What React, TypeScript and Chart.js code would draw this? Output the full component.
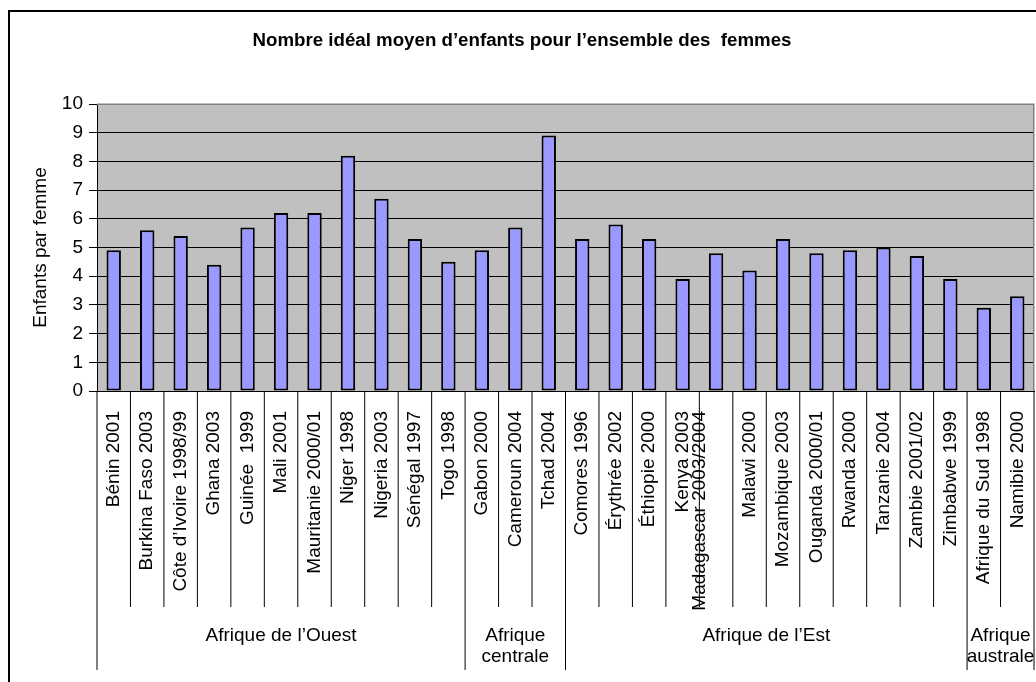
import { useEffect, useRef } from 'react';
import { Chart, registerables } from 'chart.js';

Chart.register(...registerables);

const chartTitle = 'Nombre idéal moyen d’enfants pour l’ensemble des  femmes';
const yAxisTitle = 'Enfants par femme';

const countries = [
  'Bénin 2001', 'Burkina Faso 2003', 'Côte d’Ivoire 1998/99', 'Ghana 2003', 'Guinée  1999',
  'Mali 2001', 'Mauritanie 2000/01', 'Niger 1998', 'Nigeria 2003', 'Sénégal 1997', 'Togo 1998',
  'Gabon 2000', 'Cameroun 2004', 'Tchad 2004',
  'Comores 1996', 'Érythrée 2002', 'Éthiopie 2000', 'Kenya 2003', 'Madagascar 2003/2004',
  'Malawi 2000', 'Mozambique 2003', 'Ouganda 2000/01', 'Rwanda 2000', 'Tanzanie 2004',
  'Zambie 2001/02', 'Zimbabwe 1999',
  'Afrique du Sud 1998', 'Namibie 2000',
];

const idealChildren = [
  4.9, 5.6, 5.4, 4.4, 5.7, 6.2, 6.2, 8.2, 6.7, 5.3, 4.5,
  4.9, 5.7, 8.9,
  5.3, 5.8, 5.3, 3.9, 4.8, 4.2, 5.3, 4.8, 4.9, 5.0, 4.7, 3.9,
  2.9, 3.3,
];

const regionNames = [['Afrique de l’Ouest'], ['Afrique', 'centrale'], ['Afrique de l’Est'], ['Afrique', 'australe']];
const regionSizes = [11, 3, 12, 2];

const yMin = 0;
const yMax = 10;
const yStep = 1;

const FONT = '"Liberation Sans", Arial, sans-serif';

export default function App() {
  const canvasRef = useRef<HTMLCanvasElement | null>(null);

  useEffect(() => {
    document.body.style.margin = '0';
    const canvas = canvasRef.current;
    if (!canvas) return;

    const decorPlugin = {
      id: 'decor',
      beforeDraw(chart: any) {
        const { ctx, chartArea } = chart;
        ctx.save();
        ctx.fillStyle = '#ffffff';
        ctx.fillRect(0, 0, chart.width, chart.height);
        ctx.fillStyle = '#C0C0C0';
        ctx.fillRect(chartArea.left, chartArea.top, chartArea.right - chartArea.left, chartArea.bottom - chartArea.top);
        ctx.restore();
      },
      afterDraw(chart: any) {
        const { ctx, chartArea } = chart;
        const xScale = chart.scales.x;
        const n = countries.length;
        const left = chartArea.left;
        const right = chartArea.right;
        const bottom = chartArea.bottom;
        const catW = (right - left) / n;
        ctx.save();

        // outer frame
        ctx.strokeStyle = '#000';
        ctx.lineWidth = 2;
        ctx.beginPath();
        ctx.moveTo(9, chart.height + 2);
        ctx.lineTo(9, 11);
        ctx.lineTo(chart.width + 2, 11);
        ctx.stroke();

        // title
        ctx.fillStyle = '#000';
        ctx.font = `bold 18.7px ${FONT}`;
        ctx.textAlign = 'center';
        ctx.textBaseline = 'middle';
        ctx.fillText(chartTitle, 522, 41);

        // plot border (top/right) gray
        ctx.strokeStyle = '#808080';
        ctx.lineWidth = 1.5;
        ctx.beginPath();
        ctx.moveTo(left, chartArea.top + 0.25);
        ctx.lineTo(right - 0.25, chartArea.top + 0.25);
        ctx.lineTo(right - 0.25, bottom);
        ctx.stroke();

        // category separators
        const groupBounds = new Set<number>();
        let acc = 0;
        groupBounds.add(0);
        regionSizes.forEach((s) => { acc += s; groupBounds.add(acc); });
        ctx.strokeStyle = '#000';
        ctx.lineWidth = 1;
        for (let k = 0; k <= n; k++) {
          const x = left + k * catW;
          const yEnd = groupBounds.has(k) ? 670 : 607;
          ctx.beginPath();
          ctx.moveTo(x, bottom);
          ctx.lineTo(x, yEnd);
          ctx.stroke();
        }

        // category labels
        ctx.font = `19px ${FONT}`;
        ctx.fillStyle = '#000';
        ctx.textAlign = 'right';
        ctx.textBaseline = 'middle';
        countries.forEach((label, i) => {
          let x = xScale.getPixelForValue(i);
          if (label.startsWith('Madagascar')) x -= catW / 2;
          ctx.save();
          ctx.translate(x, 411);
          ctx.rotate(-Math.PI / 2);
          ctx.fillText(label, 0, 0);
          ctx.restore();
        });

        // region labels
        ctx.textAlign = 'center';
        ctx.textBaseline = 'alphabetic';
        let start = 0;
        regionSizes.forEach((s, gi) => {
          const cx = left + (start + s / 2) * catW;
          regionNames[gi].forEach((line, li) => {
            ctx.fillText(line, cx, 641 + li * 21);
          });
          start += s;
        });

        ctx.restore();
      },
    };

    const chart = new Chart(canvas, {
      type: 'bar',
      data: {
        labels: countries,
        datasets: [
          {
            data: idealChildren,
            backgroundColor: '#9999FF',
            borderColor: '#000000',
            borderWidth: 2,
            borderSkipped: false,
            barPercentage: 0.43,
            categoryPercentage: 1,
          },
        ],
      },
      options: {
        animation: false,
        responsive: false,
        maintainAspectRatio: false,
        devicePixelRatio: 1,
        layout: { padding: { top: 104, right: 2, left: 0, bottom: 0 } },
        plugins: {
          legend: { display: false },
          title: { display: false },
          tooltip: { enabled: false },
        },
        scales: {
          x: {
            type: 'category',
            ticks: { display: false },
            grid: { display: false, drawTicks: false },
            border: { display: true, color: '#000', width: 1 },
            afterFit: (scale: any) => { scale.height = 291; },
          },
          y: {
            min: yMin,
            max: yMax,
            ticks: {
              stepSize: yStep,
              color: '#000',
              font: { family: FONT, size: 19 },
              padding: 6,
            },
            grid: {
              color: '#000',
              lineWidth: 1,
              tickLength: 8,
              drawTicks: true,
            },
            border: { display: true, color: '#000', width: 1 },
            title: {
              display: true,
              text: yAxisTitle,
              color: '#000',
              font: { family: FONT, size: 19, weight: 'normal' },
              padding: { top: 29, bottom: 0 },
            },
            afterFit: (scale: any) => { scale.width = 97; },
          },
        },
      },
      plugins: [decorPlugin],
    });

    return () => chart.destroy();
  }, []);

  return (
    <div style={{ width: 1036, height: 682 }}>
      <canvas ref={canvasRef} width={1036} height={682} style={{ display: 'block', width: 1036, height: 682 }} />
    </div>
  );
}
